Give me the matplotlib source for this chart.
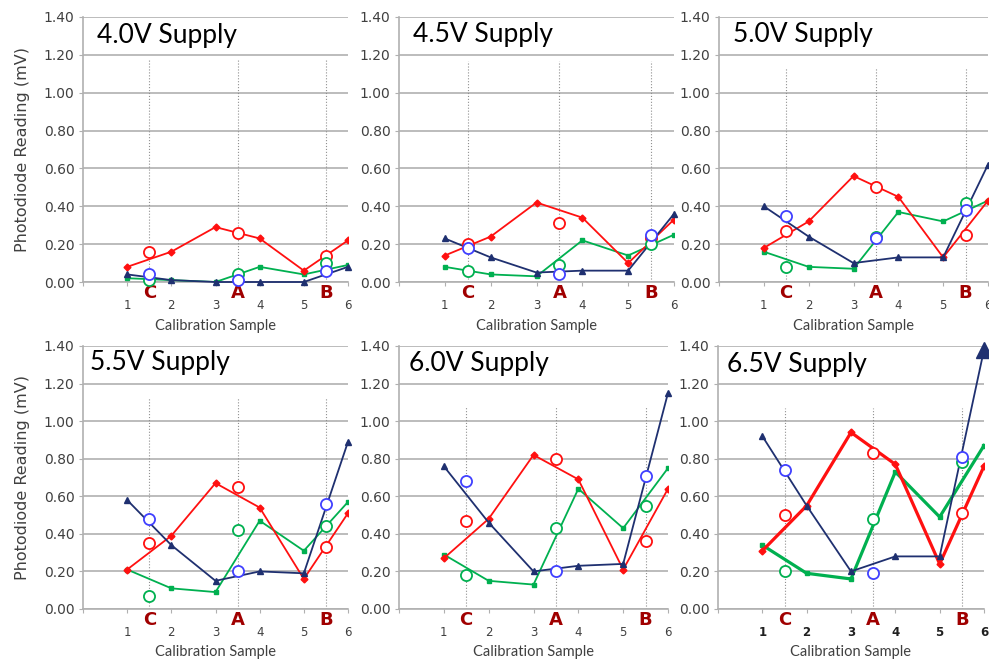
import matplotlib
matplotlib.use("Agg")
import matplotlib.pyplot as plt
import matplotlib.transforms as mtransforms

# ---- data ------------------------------------------------------------------
supplies = ["4.0V", "4.5V", "5.0V", "5.5V", "6.0V", "6.5V"]
samples = [1, 2, 3, 4, 5, 6]
check_x = [1.5, 3.5, 5.5]
check_names = ["C", "A", "B"]

red_line = [
    [0.08, 0.16, 0.29, 0.23, 0.06, 0.22],
    [0.14, 0.24, 0.42, 0.34, 0.10, 0.33],
    [0.18, 0.32, 0.56, 0.45, 0.13, 0.43],
    [0.21, 0.39, 0.67, 0.54, 0.16, 0.51],
    [0.27, 0.48, 0.82, 0.69, 0.21, 0.64],
    [0.31, 0.55, 0.94, 0.77, 0.24, 0.76],
]
green_line = [
    [0.02, 0.01, 0.00, 0.08, 0.04, 0.09],
    [0.08, 0.04, 0.03, 0.22, 0.14, 0.25],
    [0.16, 0.08, 0.07, 0.37, 0.32, 0.43],
    [0.21, 0.11, 0.09, 0.47, 0.31, 0.57],
    [0.29, 0.15, 0.13, 0.64, 0.43, 0.75],
    [0.34, 0.19, 0.16, 0.73, 0.49, 0.87],
]
navy_line = [
    [0.04, 0.01, 0.00, 0.00, 0.00, 0.08],
    [0.23, 0.13, 0.05, 0.06, 0.06, 0.36],
    [0.40, 0.24, 0.10, 0.13, 0.13, 0.62],
    [0.58, 0.34, 0.15, 0.20, 0.19, 0.89],
    [0.76, 0.46, 0.20, 0.23, 0.24, 1.15],
    [0.92, 0.55, 0.20, 0.28, 0.28, 1.38],
]
# open circles at C, A, B
red_check = [
    [0.16, 0.26, 0.14],
    [0.20, 0.31, 0.23],
    [0.27, 0.50, 0.25],
    [0.35, 0.65, 0.33],
    [0.47, 0.80, 0.36],
    [0.50, 0.83, 0.51],
]
green_check = [
    [0.01, 0.04, 0.10],
    [0.06, 0.09, 0.20],
    [0.08, 0.24, 0.42],
    [0.07, 0.42, 0.44],
    [0.18, 0.43, 0.55],
    [0.20, 0.48, 0.78],
]
blue_check = [
    [0.04, 0.01, 0.06],
    [0.18, 0.04, 0.25],
    [0.35, 0.23, 0.38],
    [0.48, 0.20, 0.56],
    [0.68, 0.20, 0.71],
    [0.74, 0.19, 0.81],
]

# ---- styling ---------------------------------------------------------------
RED, GREEN, NAVY, BLUE = "#FF1010", "#00B050", "#1F3070", "#4040FF"
DARKRED = "#A00000"
GRID = "#B0B0B0"
TXT = "#404040"

W, H = 989, 662
# axes rects in pixels: left, right, top (1.40), bottom (0.00)
rects = [
    (83, 348, 17, 282), (399, 674, 17, 282), (719, 988, 17, 282),
    (83, 348, 346, 609), (399, 668, 346, 609), (718, 984, 346, 609),
]
title_pos = [(0.053, 0.902), (0.05, 0.905), (0.052, 0.905),
             (0.026, 0.909), (0.037, 0.905), (0.034, 0.902)]
dot_top = [1.18, 1.17, 1.13, 1.13, 1.08, 1.07]

fig = plt.figure(figsize=(W / 100, H / 100), dpi=100)

for i, sup in enumerate(supplies):
    l, r, t, b = rects[i]
    ax = fig.add_axes([l / W, 1 - b / H, (r - l) / W, (b - t) / H])
    ax.set_xlim(0, 6)
    ax.set_ylim(0, 1.4)
    for s in ("top", "right"):
        ax.spines[s].set_visible(False)
    for s in ("left", "bottom"):
        ax.spines[s].set_color(GRID)
        ax.spines[s].set_linewidth(1.2)
    ax.set_yticks([0, 0.2, 0.4, 0.6, 0.8, 1.0, 1.2, 1.4])
    ax.set_yticklabels([f"{v:.2f}" for v in ax.get_yticks()])
    ax.set_xticks(range(0, 7))
    ax.set_xticklabels([""] + [str(s) for s in samples])
    bold6 = i == 5
    ax.tick_params(axis="y", length=3, color=GRID, labelsize=10, labelcolor=TXT, pad=3)
    ax.tick_params(axis="x", length=3, color=GRID, labelsize=8.5, pad=9,
                   labelcolor="#202020" if bold6 else TXT)
    if bold6:
        for lab in ax.get_xticklabels():
            lab.set_fontweight("bold")
    ax.grid(axis="y", color=GRID, lw=1.2)
    ax.set_axisbelow(True)

    # dotted guides at C, A, B
    for cx in check_x:
        ax.plot([cx, cx], [0, dot_top[i]], ls=":", lw=0.8, color="#909090", zorder=1)

    lw_line = 2.3 if i == 5 else 1.3
    ax.plot(samples, green_line[i], color=GREEN, lw=lw_line, marker="s", ms=3.5,
            zorder=3)
    ax.plot(samples, red_line[i], color=RED, lw=lw_line, marker="D", ms=3.5,
            zorder=4)
    ax.plot(samples, navy_line[i], color=NAVY, lw=1.3, marker="^", ms=4.5, zorder=5,
            clip_on=False)
    if i == 5:
        ax.plot(samples[-1], navy_line[i][-1], color=NAVY, marker="^", ms=11,
                zorder=6, clip_on=False)

    ax.plot(check_x, red_check[i], ls="none", marker="o", ms=8, mfc="white",
            mec=RED, mew=1.3, zorder=7, clip_on=False)
    ax.plot(check_x, green_check[i], ls="none", marker="o", ms=8, mfc="white",
            mec=GREEN, mew=1.3, zorder=7, clip_on=False)
    ax.plot(check_x, blue_check[i], ls="none", marker="o", ms=8, mfc="white",
            mec=BLUE, mew=1.3, zorder=8, clip_on=False)

    trans = mtransforms.blended_transform_factory(ax.transData, ax.transAxes)
    for cx, nm in zip(check_x, check_names):
        ax.text(cx, -0.04, nm, transform=trans, ha="center", va="center",
                fontsize=13, fontweight="bold", color=DARKRED)

    ax.text(0.5, -0.165, "Calibration Sample", transform=ax.transAxes,
            ha="center", va="center", fontsize=10.5, color=TXT, family="Lato")
    tx, ty = title_pos[i]
    ax.text(tx, ty, f"{sup} Supply", transform=ax.transAxes, ha="left",
            va="baseline", fontsize=19, color="black", family="Lato")
    if i in (0, 3):
        ax.text(-0.23, 0.5, "Photodiode Reading (mV)", transform=ax.transAxes,
                rotation=90, ha="center", va="center", fontsize=11.5, color=TXT)

fig.savefig("out.png", dpi=100)
